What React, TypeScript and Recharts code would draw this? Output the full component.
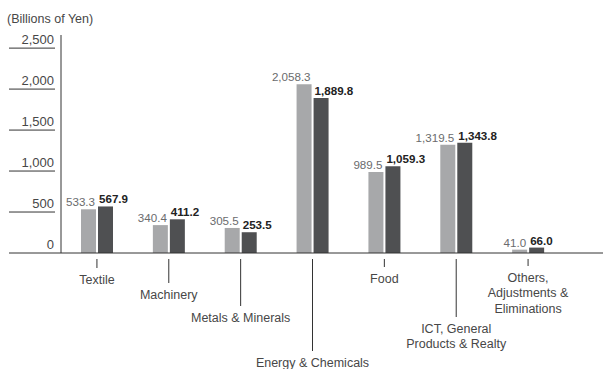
import { BarChart, Bar, XAxis, YAxis, LabelList } from 'recharts';

const categories = [
  'Textile',
  'Machinery',
  'Metals & Minerals',
  'Energy & Chemicals',
  'Food',
  'ICT, General\nProducts & Realty',
  'Others,\nAdjustments &\nEliminations',
];
const prevYear = [533.3, 340.4, 305.5, 2058.3, 989.5, 1319.5, 41.0];
const currYear = [567.9, 411.2, 253.5, 1889.8, 1059.3, 1343.8, 66.0];
const yTicks = [0, 500, 1000, 1500, 2000, 2500];

// how far each category label hangs below the axis (staggered labels)
const labelDrop = [15, 30, 53, 98, 14, 64, 13];

const data = categories.map((name, i) => ({ name, prev: prevYear[i], curr: currYear[i] }));

const FONT = '"Liberation Sans", Arial, sans-serif';
const LIGHT = '#a7a8aa';
const DARK = '#4f5052';
const INK = '#333';
const TEXT = '#474747';

const fmt = (v) =>
  Number(v).toLocaleString('en-US', { minimumFractionDigits: 1, maximumFractionDigits: 1 });

const PrevLabel = ({ x, y, width, value }) => (
  <text x={x + width - 1} y={y - 3} textAnchor="end" fontFamily={FONT} fontSize={11.6} fill="#6a6b6d">
    {fmt(value)}
  </text>
);

const CurrLabel = ({ x, y, value }) => (
  <text x={x + 1} y={y - 3} textAnchor="start" fontFamily={FONT} fontSize={11.6} fontWeight="bold" fill="#222">
    {fmt(value)}
  </text>
);

const CategoryTick = ({ x, y, payload, index }) => {
  const end = y + labelDrop[index];
  const lines = String(payload.value).split('\n');
  return (
    <g>
      <line x1={x} x2={x} y1={y + 6} y2={end} stroke={INK} strokeWidth={1} />
      <text textAnchor="middle" fontFamily={FONT} fontSize={12.5} fill={TEXT}>
        {lines.map((l, i) => (
          <tspan key={i} x={x} y={end + 15.5 + i * 15.5}>
            {l}
          </tspan>
        ))}
      </text>
    </g>
  );
};

const ValueTick = ({ x, y, payload }) => (
  <g>
    <line x1={9} x2={payload.value === 0 ? x : x - 6} y1={y} y2={y} stroke={INK} strokeWidth={1} />
    <text x={x - 7} y={y - 4} textAnchor="end" fontFamily={FONT} fontSize={13} fill={TEXT}>
      {payload.value.toLocaleString('en-US')}
    </text>
  </g>
);

export default function App() {
  return (
    <div style={{ position: 'absolute', left: 0, top: 0, width: 603, height: 369, background: '#fff' }}>
      <div
        style={{
          position: 'absolute',
          left: 7,
          top: 12,
          fontFamily: FONT,
          fontSize: 12.5,
          lineHeight: '15px',
          color: TEXT,
        }}
      >
        (Billions of Yen)
      </div>
      <BarChart
        width={603}
        height={369}
        data={data}
        margin={{ top: 35, right: 0, bottom: 0, left: 0 }}
        barGap={2}
      >
        <XAxis
          dataKey="name"
          height={116}
          interval={0}
          tickLine={false}
          tickSize={0}
          tickMargin={0}
          padding={{ left: 0, right: 39 }}
          axisLine={{ stroke: INK, strokeWidth: 1 }}
          tick={<CategoryTick />}
        />
        <YAxis
          width={61}
          domain={[0, 2660]}
          ticks={yTicks}
          interval={0}
          tickLine={false}
          tickSize={0}
          tickMargin={0}
          axisLine={{ stroke: INK, strokeWidth: 1 }}
          tick={<ValueTick />}
        />
        <Bar dataKey="prev" fill={LIGHT} barSize={15} isAnimationActive={false}>
          <LabelList dataKey="prev" content={<PrevLabel />} />
        </Bar>
        <Bar dataKey="curr" fill={DARK} barSize={15} isAnimationActive={false}>
          <LabelList dataKey="curr" content={<CurrLabel />} />
        </Bar>
      </BarChart>
    </div>
  );
}
